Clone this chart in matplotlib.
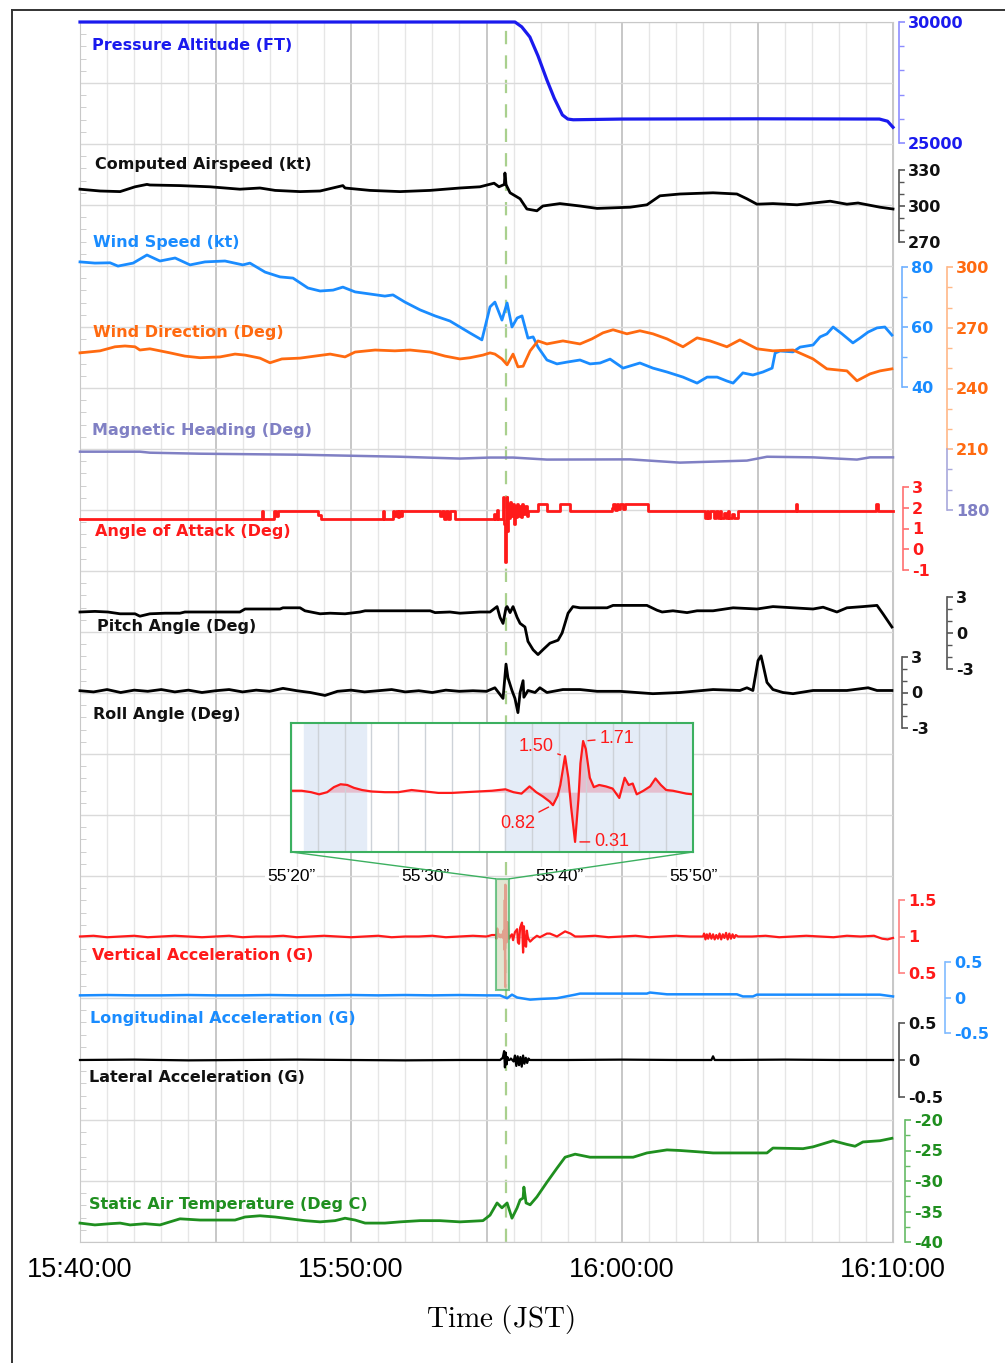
import numpy as np
import matplotlib
matplotlib.use("Agg")
import matplotlib.pyplot as plt
from matplotlib.patches import Rectangle, ConnectionPatch
from matplotlib.lines import Line2D

plt.rcParams['axes.unicode_minus'] = False
plt.rcParams['mathtext.fontset'] = 'cm'

# ---- data (time in minutes after 15:40:00) ----
time_labels = ['15:40:00', '', '15:50:00', '', '16:00:00', '', '16:10:00']

alt_t = [0, 5, 10, 15.0, 15.9, 16.05, 16.3, 16.6, 16.9, 17.23, 17.5, 17.8, 18.0, 18.2, 20, 25, 29.5, 29.8, 30]
alt = [30000, 30000, 30000, 30000, 30000, 30000, 29800, 29380, 28600, 27600, 26850, 26160, 25990, 25960,
       25990, 26000, 25990, 25900, 25650]

cas_t = [0, 0.74, 1.48, 2.03, 2.47, 2.58, 3.69, 4.80, 5.90, 6.64, 7.20, 8.12, 8.86, 9.70, 9.78, 10.70, 11.81,
         12.92, 14.02, 14.76, 15.28, 15.46, 15.66, 15.68, 15.72, 15.76, 15.87, 16.24, 16.49, 16.86, 17.08, 17.71,
         18.45, 19.08, 20.30, 20.92, 21.40, 22.14, 23.36, 24.24, 24.61, 24.98, 25.57, 26.46, 27.68, 28.30, 28.71,
         29.52, 30]
cas = [314, 312.5, 312, 316, 318, 317.5, 317, 316, 314, 315, 313, 312, 312.5, 317, 315, 313, 312, 313, 315, 316,
       319, 316, 318, 327.5, 318, 316, 311, 306, 297.5, 296, 300, 302, 300, 298, 299, 301, 308.5, 310, 311, 310,
       306, 301.5, 302, 301, 304, 301.5, 302.5, 299, 297.5]

ws_t = [0, 0.55, 1.11, 1.40, 1.96, 2.47, 2.95, 3.51, 4.06, 4.61, 5.35, 6.01, 6.27, 6.83, 7.38, 7.86, 8.41, 8.86,
        9.34, 9.70, 10.15, 10.70, 11.25, 11.55, 11.99, 12.55, 13.10, 13.65, 14.02, 14.39, 14.83, 15.13, 15.31,
        15.57, 15.76, 15.94, 16.13, 16.31, 16.42, 16.53, 16.72, 16.90, 17.23, 17.60, 17.97, 18.45, 18.82, 19.19,
        19.56, 20.04, 20.66, 21.14, 21.66, 22.25, 22.77, 23.14, 23.51, 23.87, 24.10, 24.46, 24.83, 25.20, 25.54,
        25.65, 25.83, 26.31, 26.57, 27.05, 27.31, 27.56, 27.79, 28.12, 28.52, 28.78, 29.08, 29.41, 29.70, 29.96]
ws = [81.7, 81.3, 81.4, 80.3, 81.3, 84, 82, 83, 80.7, 81.7, 82, 80.7, 81.3, 78.3, 76.7, 76.3, 73, 72, 72.3, 73.3,
      71.7, 71, 70.3, 70.7, 68.3, 65.7, 63.7, 62, 60, 58, 55.7, 66.7, 68.3, 62.3, 68, 60, 63, 63.7, 60, 56.3,
      56.7, 53.3, 49, 47.7, 48.3, 49, 47.7, 48, 49.3, 46.3, 48, 46.3, 45, 43.3, 41.3, 43.3, 43.3, 42, 41.3, 44.7,
      44, 45, 46.3, 51.3, 52, 51.7, 53.3, 54, 56.7, 57.7, 60, 57.7, 54.7, 56.3, 58.3, 59.7, 60, 57.3]

wd_t = [0, 0.74, 1.29, 1.66, 2.03, 2.21, 2.58, 2.95, 3.32, 3.87, 4.43, 5.17, 5.72, 6.09, 6.64, 7.01, 7.45, 8.12,
        8.67, 9.23, 9.78, 10.15, 10.89, 11.62, 12.18, 12.92, 13.47, 14.02, 14.39, 14.87, 15.13, 15.31, 15.57,
        15.76, 15.98, 16.16, 16.35, 16.61, 16.90, 17.23, 17.82, 18.45, 18.89, 19.30, 19.67, 20.18, 20.66, 21.14,
        21.66, 22.25, 22.77, 23.25, 23.87, 24.35, 24.98, 25.57, 26.31, 27.05, 27.56, 28.30, 28.67, 29.15, 29.52,
        29.96]
wd = [257.6, 258.6, 260.6, 261, 260.6, 259, 259.6, 258.6, 257.6, 256, 255.2, 255.6, 257, 256.5, 255, 252.7,
      254.6, 255, 256, 257, 255.6, 258, 259, 258.6, 259, 258, 256, 254.6, 255.2, 256.5, 257.6, 257, 254.6, 251.7,
      257, 250.7, 251, 258.6, 263.5, 262, 263.5, 262, 264.5, 267.5, 269, 267, 268.5, 267, 264.5, 260.6, 265,
      263.5, 260.6, 264, 259.6, 258.6, 259, 254.6, 249.7, 248.7, 243.8, 247.2, 248.7, 249.7]

hd_t = [0, 2.21, 2.58, 4.43, 8.12, 11.81, 14.02, 15.13, 15.98, 17.23, 20.30, 22.14, 24.61, 25.35, 27.05, 28.67,
        29.15, 30]
hd = [208.8, 208.8, 208.3, 207.8, 207.3, 206.3, 205.4, 205.9, 205.9, 204.9, 205.0, 203.4, 204.4, 206.3, 206.0,
      204.9, 206.0, 206.0]

aoa_t = [0, 6.72, 6.77, 7.16, 7.22, 7.31, 8.78, 8.90, 11.18, 11.23, 11.55, 11.60, 11.66, 11.72, 11.78, 11.84,
         11.90, 13.28, 13.34, 13.42, 13.50, 13.58, 13.66, 13.84, 15.28, 15.33, 15.39, 15.44, 15.60, 15.63, 15.68,
         15.71, 15.74, 15.77, 15.80, 15.84, 15.88, 15.92, 15.96, 16.00, 16.04, 16.08, 16.12, 16.16, 16.20, 16.26,
         16.31, 16.36, 16.42, 16.48, 16.53, 16.90, 17.23, 17.71, 18.08, 19.62, 19.67, 19.73, 19.80, 19.86, 19.92,
         20.04, 20.10, 20.96, 23.06, 23.12, 23.18, 23.26, 23.40, 23.47, 23.53, 23.60, 23.66, 23.75, 23.82, 23.90,
         23.95, 24.05, 24.12, 24.28, 26.42, 26.47, 29.38, 29.45, 30]
aoa = [1.48, 1.85, 1.48, 1.85, 1.6, 1.85, 1.65, 1.48, 1.85, 1.48, 1.85, 1.6, 1.85, 1.55, 1.85, 1.6, 1.85, 1.6,
       1.85, 1.48, 1.85, 1.48, 1.85, 1.48, 1.7, 1.48, 1.9, 1.48, 2.5, 1.2, -0.6, 1.0, 2.5, 0.86, 2.2, 1.5, 2.3,
       1.6, 2.2, 1.2, 2.1, 1.55, 2.2, 1.6, 2.1, 1.55, 2.2, 1.7, 2.1, 1.6, 1.86, 2.2, 1.86, 2.2, 1.86, 2.0, 2.2,
       1.9, 2.2, 1.95, 2.2, 1.95, 2.2, 1.86, 1.52, 1.86, 1.52, 1.86, 1.52, 1.86, 1.52, 1.86, 1.52, 1.75, 1.52,
       1.86, 1.52, 1.7, 1.52, 1.86, 2.2, 1.86, 2.2, 1.86, 1.86]

pitch_t = [0, 0.55, 1.03, 1.48, 2.03, 2.21, 2.58, 3.14, 3.69, 3.87, 4.43, 5.90, 6.09, 7.38, 7.49, 8.12, 8.30,
           8.86, 9.23, 9.78, 10.33, 10.52, 12.92, 13.10, 13.65, 14.02, 14.76, 15.13, 15.39, 15.50, 15.61, 15.72,
           15.76, 15.87, 15.98, 16.13, 16.24, 16.42, 16.53, 16.72, 16.90, 17.08, 17.34, 17.64, 17.79, 18.01,
           18.19, 18.45, 19.45, 19.67, 20.92, 21.29, 21.48, 21.88, 22.40, 22.77, 23.36, 24.10, 24.98, 25.57,
           26.31, 27.05, 27.42, 27.93, 28.30, 28.89, 29.41, 29.63, 29.96]
pitch = [1.75, 1.8, 1.75, 1.6, 1.6, 1.4, 1.6, 1.65, 1.65, 1.75, 1.75, 1.75, 2.0, 2.0, 2.1, 2.1, 1.85, 1.6, 1.65,
         1.6, 1.75, 1.85, 1.85, 1.7, 1.75, 1.65, 1.75, 1.75, 2.2, 1.3, 0.8, 2.1, 2.2, 1.7, 2.2, 1.3, 0.8, 0.5,
         -0.7, -1.4, -1.8, -1.4, -0.85, -0.6, 0, 1.65, 2.2, 2.1, 2.1, 2.3, 2.3, 1.9, 1.75, 1.85, 1.7, 1.85, 1.85,
         2.1, 2.0, 2.2, 2.1, 2.0, 2.15, 1.75, 2.1, 2.2, 2.3, 1.6, 0.5]

roll_t = [0, 0.5, 1.0, 1.5, 2.0, 2.5, 3.0, 3.5, 4.0, 4.5, 5.0, 5.5, 6.0, 6.5, 7.0, 7.49, 8.0, 8.5, 9.04, 9.5,
          10.0, 10.5, 11.0, 11.5, 12.0, 12.5, 13.0, 13.5, 14.0, 14.5, 15.0, 15.31, 15.61, 15.72, 15.79, 15.94,
          16.05, 16.16, 16.24, 16.35, 16.38, 16.53, 16.79, 16.97, 17.23, 17.82, 18.45, 19.08, 19.93, 21.14,
          22.14, 23.36, 24.35, 24.61, 24.83, 25.02, 25.13, 25.20, 25.35, 25.57, 25.94, 26.31, 27.05, 28.30,
          29.08, 29.41, 29.96]
roll = [0.15, 0.05, 0.25, 0.0, 0.2, 0.1, 0.25, 0.05, 0.2, 0.0, 0.15, 0.25, 0.05, 0.2, 0.1, 0.35, 0.15, 0.0, -0.25,
        0.1, 0.2, 0.05, 0.15, 0.25, 0.05, 0.15, 0.0, 0.2, 0.1, 0.15, 0.1, 0.4, -0.5, 2.4, 1.25, 0.17, -0.5, -1.7,
        0.0, 1.0, -0.4, 0.17, 0.0, 0.4, 0.0, 0.25, 0.25, 0.1, 0.1, -0.1, 0.0, 0.25, 0.17, 0.4, 0.17, 2.7, 3.1,
        2.4, 0.85, 0.25, 0.0, -0.1, 0.17, 0.17, 0.4, 0.17, 0.17]

# vertical acceleration: slow-rate part + high-rate detail 55'20"-55'50" (seconds after 15:55:00)
va_pre_t = [0, 0.5, 1.0, 1.5, 2.0, 2.5, 3.0, 3.5, 4.0, 4.5, 5.0, 5.5, 6.0, 6.5, 7.0, 7.5, 8.0, 8.5, 9.0, 9.5,
            10.0, 10.5, 11.0, 11.5, 12.0, 12.5, 13.0, 13.5, 14.0, 14.5, 15.0, 15.2]
va_pre = [1.0, 1.01, 0.99, 1.0, 1.01, 0.99, 1.0, 1.01, 1.0, 0.99, 1.0, 1.01, 0.99, 1.0, 1.0, 1.01, 0.99, 1.0,
          1.01, 1.0, 0.99, 1.0, 1.01, 0.99, 1.0, 1.0, 1.01, 0.99, 1.0, 1.01, 1.0, 1.02]
ev_s = [20.0, 20.8, 21.5, 22.1, 22.7, 23.2, 23.7, 24.2, 24.7, 25.3, 26.0, 27.0, 28.0, 29.0, 30.0, 31.0, 32.0,
        33.0, 34.0, 35.0, 36.0, 36.6, 37.2, 37.8, 38.3, 38.8, 39.3, 39.55, 39.9, 40.1, 40.45, 40.7, 40.9, 41.2,
        41.45, 41.6, 41.8, 42.0, 42.3, 42.6, 43.0, 43.5, 44.0, 44.5, 44.9, 45.2, 45.5, 45.8, 46.3, 46.8, 47.2,
        47.6, 48.0, 48.5, 49.0, 49.5, 50.0]
ev_g = [1.02, 1.02, 1.0, 0.97, 1.0, 1.07, 1.11, 1.10, 1.06, 1.03, 1.01, 1.0, 1.0, 1.03, 1.01, 0.99, 0.99, 1.0,
        1.01, 1.02, 1.04, 1.0, 0.98, 1.08, 1.0, 0.94, 0.87, 0.82, 0.95, 1.1, 1.50, 1.2, 0.8, 0.31, 0.9, 1.4,
        1.71, 1.6, 1.2, 1.07, 1.10, 1.08, 1.05, 0.92, 1.20, 1.10, 1.12, 0.97, 1.02, 1.08, 1.19, 1.10, 1.03,
        1.02, 1.0, 0.98, 0.97]
va_post_t = [15.87, 15.94, 15.98, 16.05, 16.13, 16.16, 16.20, 16.24, 16.31, 16.35, 16.38, 16.42, 16.46, 16.49,
             16.53, 16.61, 16.72, 16.86, 16.97, 17.23, 17.34, 17.60, 17.90, 18.10, 18.27, 18.5, 19.0, 19.5, 20.0,
             20.5, 21.0, 21.5, 22.0, 22.5, 22.99, 23.03, 23.08, 23.13, 23.18, 23.24, 23.30, 23.36, 23.42, 23.48,
             23.54, 23.60, 23.66, 23.72, 23.78, 23.84, 23.90, 23.96, 24.02, 24.08, 24.14, 24.20, 24.28, 24.8,
             25.3, 25.8, 26.3, 26.8, 27.3, 27.8, 28.3, 28.8, 29.3, 29.6, 29.8, 30.0]
va_post = [1.0, 1.03, 0.95, 1.06, 1.1, 0.92, 0.9, 1.12, 1.19, 0.78, 1.14, 0.88, 0.86, 1.08, 0.98, 0.93, 0.97,
           1.01, 0.99, 1.04, 1.04, 1.0, 1.07, 1.04, 1.0, 1.0, 1.01, 0.99, 1.0, 1.01, 0.99, 1.0, 1.01, 1.0, 1.0,
           1.04, 0.96, 1.03, 0.97, 1.04, 0.97, 1.03, 0.96, 1.02, 0.97, 1.04, 0.96, 1.03, 0.98, 1.05, 0.96, 1.04,
           0.97, 1.03, 0.98, 1.02, 1.0, 1.0, 1.01, 0.99, 1.0, 1.01, 1.0, 0.99, 1.01, 1.0, 1.01, 0.97, 0.96, 0.98]

lon_t = [0, 1, 2, 3, 4, 5, 6, 7, 8, 9, 10, 11, 12, 13, 14, 15, 15.5, 15.76, 15.94, 16.13, 16.61, 17.0, 17.60,
         18.27, 18.45, 20.92, 21.03, 21.66, 24.24, 24.46, 24.83, 24.98, 29.52, 30]
lon = [0.03, 0.035, 0.03, 0.03, 0.035, 0.03, 0.03, 0.035, 0.03, 0.03, 0.035, 0.03, 0.035, 0.03, 0.035, 0.03,
       0.03, -0.01, 0.04, 0.0, -0.03, -0.02, -0.01, 0.04, 0.055, 0.055, 0.07, 0.045, 0.045, 0.015, 0.015, 0.04,
       0.04, 0.015]

lat_t = [0, 2, 4, 6, 8, 10, 12, 14, 15.5, 15.6, 15.65, 15.68, 15.71, 15.74, 15.77, 15.8, 15.85, 15.9, 16.0,
         16.05, 16.1, 16.15, 16.2, 16.25, 16.3, 16.35, 16.4, 16.45, 16.5, 16.55, 16.6, 16.7, 18, 20, 22, 23.3,
         23.36, 23.42, 24, 26, 28, 30]
lat = [0, 0.005, -0.005, 0, 0.005, 0, -0.005, 0, 0, 0.03, 0.12, -0.1, 0.1, -0.06, 0.04, 0, 0, 0.02, -0.02,
       0.06, -0.08, 0.05, -0.07, 0.04, -0.09, 0.06, -0.05, 0.03, -0.04, 0.02, 0, 0, 0, 0.005, 0, 0, 0.05, 0, 0,
       0.005, 0, 0]

sat_t = [0, 0.55, 1.11, 1.48, 1.85, 2.40, 2.95, 3.32, 3.69, 4.43, 4.98, 5.72, 6.09, 6.64, 7.20, 7.75, 8.30, 8.86,
         9.41, 9.78, 10.15, 10.52, 11.25, 11.81, 12.55, 13.28, 14.02, 14.87, 15.13, 15.39, 15.57, 15.76, 15.94,
         16.13, 16.24, 16.35, 16.38, 16.46, 16.61, 16.86, 17.23, 17.60, 17.90, 18.27, 18.82, 19.67, 20.41, 20.92,
         21.66, 22.14, 22.77, 23.36, 23.99, 25.35, 25.57, 26.68, 27.05, 27.79, 28.30, 28.60, 28.89, 29.52, 29.96]
sat = [-36.9, -37.2, -37.0, -36.9, -37.2, -37.0, -37.2, -36.7, -36.2, -36.4, -36.4, -36.4, -35.9, -35.7, -35.9,
       -36.2, -36.5, -36.7, -36.5, -36.1, -36.4, -36.9, -36.9, -36.7, -36.5, -36.5, -36.7, -36.5, -35.6, -33.6,
       -34.4, -33.6, -36.1, -34.4, -33.1, -32.8, -31.0, -33.6, -33.9, -32.6, -30.2, -27.9, -26.1, -25.6, -26.1,
       -26.1, -26.1, -25.4, -24.9, -25.0, -25.2, -25.4, -25.4, -25.4, -24.6, -24.7, -24.4, -23.4, -24.0, -24.3,
       -23.6, -23.4, -23.0]

event_min = 15.72          # dashed marker, 15:55:43
zoom_s = (20, 50)          # seconds after 15:55:00 shown in the inset
inset_ticks = [20, 30, 40, 50]
inset_ticklabels = ['55\u201920\u201d', '55\u201930\u201d', '55\u201940\u201d', '55\u201950\u201d']

# ---- layout helpers (pixels of the 1005x1363 canvas) ----
W, H = 1005, 1363


def box(x0, y0, x1, y1):
    return [x0 / W, 1 - y1 / H, (x1 - x0) / W, (y1 - y0) / H]


BLUE, SKY, ORANGE, PURPLE = '#1a1aee', '#1a8cff', '#ff6a10', '#8080c4'
RED, GREEN, ZGREEN = '#ff1a1a', '#1f8f1f', '#3cb060'

fig = plt.figure(figsize=(W / 100, H / 100), dpi=100)

bg = fig.add_axes(box(80, 22, 893, 1242))
bg.set_xlim(0, 30)
bg.set_ylim(0, 20)
bg.set_xticks(range(0, 31, 5))
bg.set_xticklabels(time_labels, family='Liberation Sans', fontsize=19.5)
bg.set_xticks(range(31), minor=True)
bg.set_yticks(range(21))
bg.set_yticks(np.arange(0, 20.01, 0.2), minor=True)
bg.grid(which='minor', axis='x', color='#e6e6e6', lw=1)
bg.grid(which='major', axis='x', color='#b8b8b8', lw=1.1)
bg.grid(which='major', axis='y', color='#dadada', lw=1)
bg.tick_params(axis='x', which='both', length=0, pad=11)
bg.tick_params(axis='y', which='major', length=0, labelleft=False)
bg.tick_params(axis='y', which='minor', direction='in', length=4, color='#c8c8c8')
for s in bg.spines.values():
    s.set_color('#c8c8c8')
bg.axvline(event_min, color='#a9d08e', lw=1.6, dashes=(6, 5), zorder=1)


def scale_axis(top, bottom, lo, hi, offset, spine_col, text_col, major, labels, minor=(), bounds=None):
    ax = fig.add_axes(box(80, top, 893, bottom))
    ax.set_xlim(0, 30)
    ax.set_ylim(lo, hi)
    ax.patch.set_visible(False)
    for s in ['left', 'top', 'bottom']:
        ax.spines[s].set_visible(False)
    sp = ax.spines['right']
    sp.set_position(('outward', offset * 0.72))
    sp.set_color(spine_col)
    sp.set_linewidth(1.2)
    if bounds:
        sp.set_bounds(*bounds)
    ax.set_xticks([])
    ax.yaxis.tick_right()
    ax.set_yticks(major)
    ax.set_yticklabels(labels, fontweight='bold')
    ax.set_yticks(list(minor), minor=True)
    ax.tick_params(axis='y', which='major', length=4, width=1.2, color=spine_col,
                   labelcolor=text_col, labelsize=11.5, pad=2.5)
    ax.tick_params(axis='y', which='minor', length=3.5, width=1, color=spine_col)
    return ax


a_alt = scale_axis(22, 143, 25000, 30000, 6, '#8c8cff', BLUE, [25000, 30000], ['25000', '30000'],
                   [26000, 27000, 28000, 29000])
a_cas = scale_axis(170, 242, 270, 330, 6, '#555555', '#111111', [270, 300, 330], ['270', '300', '330'],
                   [280, 290, 310, 320])
a_ws = scale_axis(267, 387, 40, 80, 9, '#70b0ff', SKY, [40, 60, 80], ['40', '60', '80'], [50, 70])
a_wd = scale_axis(267, 510, 180, 300, 54, '#ffb888', ORANGE, [210, 240, 270, 300],
                  ['210', '240', '270', '300'], [220, 230, 250, 260, 280, 290], bounds=(210, 300))
a_hd = scale_axis(267, 510, 180, 300, 54, '#a8a8dc', PURPLE, [180], ['180'], [190, 200], bounds=(180, 210))
a_aoa = scale_axis(487, 570, -1, 3, 10, '#ff7070', RED, [-1, 0, 1, 2, 3], ['-1', '0', '1', '2', '3'])
a_pt = scale_axis(597, 669, -3, 3, 54, '#555555', '#111111', [-3, 0, 3], ['-3', '0', '3'], [-2, -1, 1, 2])
a_rl = scale_axis(657, 728, -3, 3, 9, '#555555', '#111111', [-3, 0, 3], ['-3', '0', '3'], [-2, -1, 1, 2])
a_va = scale_axis(900, 973, 0.5, 1.5, 6, '#ff8080', RED, [0.5, 1, 1.5], ['0.5', '1', '1.5'])
a_lon = scale_axis(962, 1033, -0.5, 0.5, 52, '#80bbff', SKY, [-0.5, 0, 0.5], ['-0.5', '0', '0.5'])
a_lat = scale_axis(1023, 1097, -0.5, 0.5, 6, '#555555', '#111111', [-0.5, 0, 0.5], ['-0.5', '0', '0.5'])
a_sat = scale_axis(1120, 1242, -40, -20, 12, '#66bb66', GREEN, [-40, -35, -30, -25, -20],
                   ['-40', '-35', '-30', '-25', '-20'], [-37.5, -32.5, -27.5, -22.5])

va_t = va_pre_t + [15 + s / 60 for s in ev_s] + va_post_t
va = va_pre + ev_g + va_post

kw = dict(clip_on=False, solid_joinstyle='round')
a_alt.plot(alt_t, alt, color=BLUE, lw=2.3, **kw)
a_cas.plot(cas_t, cas, color='black', lw=2.0, **kw)
a_ws.plot(ws_t, ws, color=SKY, lw=2.0, **kw)
a_wd.plot(wd_t, wd, color=ORANGE, lw=2.0, **kw)
a_hd.plot(hd_t, hd, color=PURPLE, lw=1.8, **kw)
a_aoa.plot(aoa_t, aoa, color=RED, lw=2.0, drawstyle='steps-post', **kw)
a_pt.plot(pitch_t, pitch, color='black', lw=2.0, **kw)
a_rl.plot(roll_t, roll, color='black', lw=2.0, **kw)
a_va.plot(va_t, va, color=RED, lw=1.6, **kw)
a_lon.plot(lon_t, lon, color=SKY, lw=1.8, **kw)
a_lat.plot(lat_t, lat, color='black', lw=1.6, **kw)
a_sat.plot(sat_t, sat, color=GREEN, lw=2.0, **kw)

series_names = [("Pressure Altitude (FT)", 92, 45, BLUE),
                ("Computed Airspeed (kt)", 95, 165, '#111111'),
                ("Wind Speed (kt)", 93, 243, SKY),
                ("Wind Direction (Deg)", 93, 333, ORANGE),
                ("Magnetic Heading (Deg)", 92, 430, PURPLE),
                ("Angle of Attack (Deg)", 95, 532, RED),
                ("Pitch Angle (Deg)", 97, 627, '#111111'),
                ("Roll Angle (Deg)", 93, 715, '#111111'),
                ("Vertical Acceleration (G)", 92, 956, RED),
                ("Longitudinal Acceleration (G)", 90, 1018, SKY),
                ("Lateral Acceleration (G)", 89, 1078, '#111111'),
                ("Static Air Temperature (Deg C)", 89, 1204, GREEN)]
for name, x, y, c in series_names:
    fig.text(x / W, 1 - y / H, name, color=c, fontsize=11.5, fontweight='bold', va='center', ha='left')

# ---- zoomed inset of vertical acceleration ----
t0, t1 = 15 + zoom_s[0] / 60, 15 + zoom_s[1] / 60
a_va.add_patch(Rectangle((t0, 0.27), t1 - t0, 1.52, fc='#d6dcc0', alpha=0.7, ec=ZGREEN, lw=1.5,
                         zorder=5, clip_on=False))

ins = fig.add_axes(box(291, 723, 693, 852))
ins.set_xlim(*zoom_s)
ins.set_ylim(0.17, 1.96)
ins.axvspan(21.0, 25.6, color='#e4ecf7', zorder=0)
ins.axvspan(36.0, 50.0, color='#e4ecf7', zorder=0)
ins.set_xticks(inset_ticks)
ins.set_xticklabels(inset_ticklabels, family='Liberation Sans', fontsize=12.5,
                    bbox=dict(fc='white', ec='none', pad=1))
ins.set_xticks(range(20, 51, 2), minor=True)
ins.set_yticks([])
ins.grid(which='both', axis='x', color='#cdd2d8', lw=1)
ins.tick_params(axis='x', which='both', length=0, pad=12)
for s in ins.spines.values():
    s.set_color(ZGREEN)
    s.set_linewidth(1.5)
ins.fill_between(ev_s, ev_g, 1.0, color='#e6a0b4', alpha=0.6, lw=0)
ins.plot(ev_s, ev_g, color=RED, lw=1.6)

lead = dict(arrowstyle='-', color=RED, lw=1, shrinkA=1, shrinkB=3)
ins.annotate('1.50', xy=(40.4, 1.5), xytext=(39.6, 1.63), ha='right', va='center', color=RED,
             fontsize=13, family='Liberation Sans', arrowprops=lead)
ins.annotate('1.71', xy=(41.85, 1.71), xytext=(43.0, 1.75), ha='left', va='center', color=RED,
             fontsize=13, family='Liberation Sans', arrowprops=lead)
ins.annotate('0.82', xy=(39.5, 0.82), xytext=(38.2, 0.57), ha='right', va='center', color=RED,
             fontsize=13, family='Liberation Sans', arrowprops=lead)
ins.annotate('0.31', xy=(41.25, 0.31), xytext=(42.6, 0.31), ha='left', va='center', color=RED,
             fontsize=13, family='Liberation Sans', arrowprops=lead)

for xa, xb in [((0, 0), (t0, 1.79)), ((1, 0), (t1, 1.79))]:
    fig.add_artist(ConnectionPatch(xyA=xa, coordsA=ins.transAxes, xyB=xb, coordsB=a_va.transData,
                                   color=ZGREEN, lw=1))

fig.text(500 / W, 1 - 1320 / H, r'$\mathrm{Time\ (JST)}$', ha='center', va='center', fontsize=21)

# outer frame
fig.add_artist(Line2D([12 / W, 12 / W], [0, 1 - 10 / H], color='#333333', lw=1.4))
fig.add_artist(Line2D([12 / W, 1], [1 - 10 / H, 1 - 10 / H], color='#333333', lw=1.4))

fig.savefig("out.png", dpi=100)
